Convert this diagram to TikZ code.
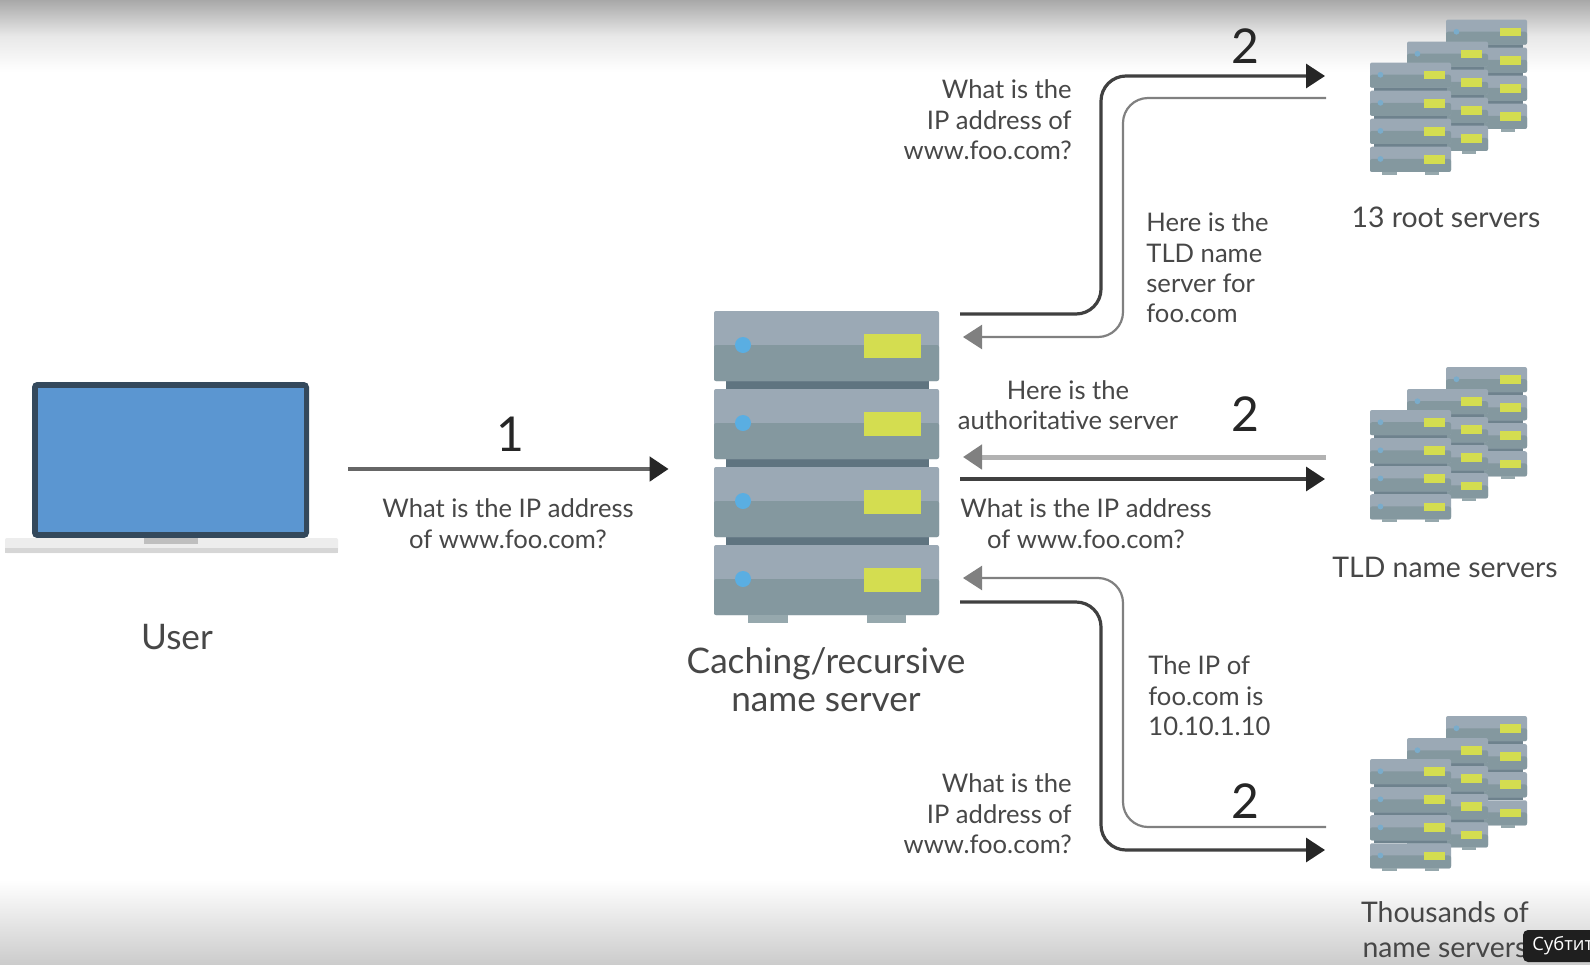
\documentclass[tikz,border=0pt]{standalone}
\usepackage{fontspec}
\setmainfont{Lato}
\newfontfamily\subsfont{Open Sans}
\usetikzlibrary{arrows.meta}
\definecolor{rackTop}{HTML}{9BA9B5}
\definecolor{rackLow}{HTML}{84989F}
\definecolor{rackGap}{HTML}{5F7480}
\definecolor{rackLed}{HTML}{5AAEE2}
\definecolor{rackLamp}{HTML}{D4DD50}
\definecolor{lapFrame}{HTML}{34495C}
\definecolor{lapScreen}{HTML}{5B96D1}
\definecolor{textGray}{HTML}{474747}
\tikzset{
	spot/.style={inner sep=0pt,outer sep=0pt,minimum width=#1,minimum height=60pt},
	note/.style={font=\fontsize{12.8}{15.2}\selectfont,text=textGray,inner sep=0pt},
	bignote/.style={font=\fontsize{17.6}{19}\selectfont,text=textGray,inner sep=0pt,align=center},
	midnote/.style={font=\fontsize{14.2}{17.4}\selectfont,text=textGray,inner sep=0pt,align=center},
	count/.style={font=\fontsize{24}{24}\selectfont,text=black!85,inner sep=0pt},
	ask/.style={line width=1.6pt,draw=black!75,rounded corners=12.5pt,-{Triangle[length=9.5pt,width=12pt,color=black!85]},shorten >=.5pt},
	reply/.style={line width=1.1pt,draw=black!50,rounded corners=12.5pt,-{Triangle[length=9.5pt,width=12pt,color=black!50]},shorten >=1.5pt},
	rack/.pic={
		\foreach \k in {0,1,2,3}{
			\begin{scope}[shift={(0,78*\k)}]
			\ifnum\k<3 \fill[rackGap](12,68)rectangle(215,78);\fi
			\fill[rackTop,rounded corners=1pt](0,0)rectangle(225,70);
			\fill[rackLow,rounded corners=1pt](0,34)rectangle(225,70);
			\fill[rackLed](29,34)circle(8);
			\fill[rackLamp](150,23)rectangle(207,47);
			\end{scope}
		}
		\fill[rackLow!85!white](34,304)rectangle(74,312);
		\fill[rackLow!85!white](153,304)rectangle(192,312);
	},
	rackgroup/.pic={
		\colorlet{rackGap}{rackGap!60!rackLow}
		\colorlet{rackLed}{rackLed!50!rackTop}
		\pic[scale=.36] at (76,0) {rack};
		\pic[scale=.36] at (37,22) {rack};
		\pic[scale=.36] at (0,43) {rack};
	}
}
\begin{document}
\begin{tikzpicture}[x=0.5pt,y=-0.5pt]
	\useasboundingbox (0,0) rectangle (1590,964);
	\clip (0,0) rectangle (1590,964);
	\fill[white](0,0)rectangle(1590,964);
	\shade[top color=black!34,bottom color=white,middle color=black!9](0,0)rectangle(1590,72);
	\shade[top color=white,bottom color=black!20](0,880)rectangle(1590,964);
	% laptop
	\node[spot=167pt] (user) at (171,468) {};
	\fill[lapFrame,rounded corners=2.5pt](32,382)--(309,382)--(309,538)--(32,538)--cycle;
	\fill[lapScreen](38,388)rectangle(304,532);
	\fill[black!7,rounded corners=1pt](5,538)rectangle(338,553);
	\fill[black!16](5,548)rectangle(338,553);
	\fill[black!25](144,538)rectangle(198,544);
	% name server
	\node[spot=133.5pt] (cache) at (826.5,463) {};
	\pic at (714,311) {rack};
	% the three groups
	\node[spot=122pt] (root) at (1448,98) {};
	\node[spot=122pt] (tld) at (1448,447) {};
	\node[spot=122pt] (auth) at (1448,796) {};
	\pic at (1370,19.5) {rackgroup};
	\pic at (1370,367) {rackgroup};
	\pic at (1370,716) {rackgroup};
	% arrows
	\draw[ask,line width=2.4pt,draw=black!60,shorten <=5pt,shorten >=12.2pt](user.east|-0,469)--(cache.west|-0,469);
	\draw[ask]([yshift=74.5pt]cache.east)--++(141,0)|-([yshift=11pt]root.west);
	\draw[reply]([yshift=0pt]root.west)-|(1123,250)|-([yshift=63pt]cache.east);
	\draw[reply,line width=2.5pt,draw=black!30]([yshift=-5pt]tld.west)--([yshift=3pt]cache.east);
	\draw[ask]([yshift=-8pt]cache.east)--([yshift=-16pt]tld.west);
	\draw[reply]([yshift=-15.5pt]auth.west)-|(1123,700)|-([yshift=-57.5pt]cache.east);
	\draw[ask]([yshift=-69.5pt]cache.east)--++(141,0)|-([yshift=-27pt]auth.west);
	% texts
	\node[count] (one) at (510,434) {1};
	\node[count] (twoA) at (1245,46) {2};
	\node[count] (twoB) at (1245,414) {2};
	\node[count] (twoC) at (1245,801) {2};
	\node[note,align=center] (askUser) at (508,523.5) {What is the IP address\\of www.foo.com?};
	\node[note,align=right,anchor=east] (askRoot) at (1072,120) {What is the\\IP address of\\www.foo.com?};
	\node[note,align=left,anchor=west] (ansRoot) at (1146,268) {Here is the\\TLD name\\server for\\foo.com};
	\node[note,align=center] (ansTld) at (1068,405) {Here is the\\authoritative server};
	\node[note,align=center] (askTld) at (1086,523.5) {What is the IP address\\of www.foo.com?};
	\node[note,align=left,anchor=west] (ansAuth) at (1148,696) {The IP of\\foo.com is\\10.10.1.10};
	\node[note,align=right,anchor=east] (askAuth) at (1072,814) {What is the\\IP address of\\www.foo.com?};
	\node[bignote] (userName) at (177,637) {User};
	\node[bignote] (cacheName) at (826,680) {Caching/recursive\\name server};
	\node[midnote] (rootName) at (1446,217) {13 root servers};
	\node[midnote] (tldName) at (1445,567) {TLD name servers};
	\node[midnote] (authName) at (1445,930) {Thousands of\\name servers};
	% caption tab
	\fill[black!88,rounded corners=2.5pt](1523,930)rectangle(1610,962);
	\node[font=\subsfont\fontsize{9.2}{10}\selectfont,text=white,inner sep=0pt,anchor=west] (tab) at (1532,946) {Субтит};
\end{tikzpicture}
\end{document}
